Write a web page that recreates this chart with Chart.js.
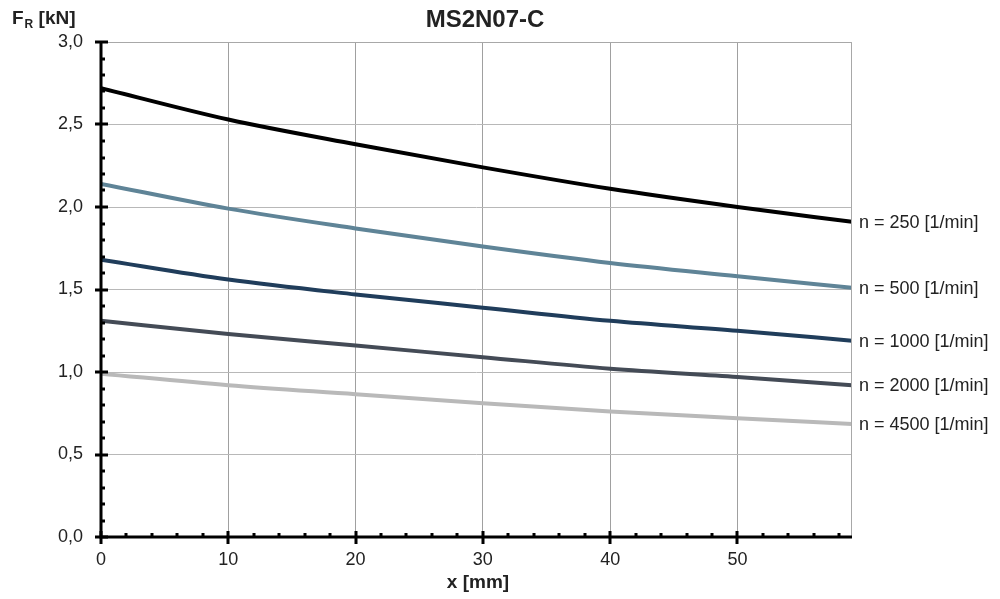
<!DOCTYPE html>
<html>
<head>
<meta charset="utf-8">
<script src="https://cdn.jsdelivr.net/npm/chart.js@4/dist/chart.umd.min.js"></script>
<style>
  html, body { margin: 0; padding: 0; background: #fff; }
  #wrap { width: 1000px; height: 599px; position: relative; }
</style>
</head>
<body>
<div id="wrap"><canvas id="chart"></canvas></div>
<script>
'use strict';

// x positions [mm]
const xValues = [0, 10, 20, 30, 40, 50, 59];

// radial force F_R [kN] per speed
const n250  = [2.72, 2.53, 2.38, 2.24, 2.11, 2.00, 1.91];
const n500  = [2.14, 1.99, 1.87, 1.76, 1.66, 1.58, 1.51];
const n1000 = [1.68, 1.56, 1.47, 1.39, 1.31, 1.25, 1.19];
const n2000 = [1.31, 1.23, 1.16, 1.09, 1.02, 0.97, 0.92];
const n4500 = [0.99, 0.92, 0.865, 0.81, 0.76, 0.72, 0.685];

const seriesLabels = ['n = 250 [1/min]', 'n = 500 [1/min]', 'n = 1000 [1/min]', 'n = 2000 [1/min]', 'n = 4500 [1/min]'];
const seriesColors = ['#000000', '#5f8497', '#203d5b', '#444b56', '#b9b9b9'];
const seriesData = [n250, n500, n1000, n2000, n4500];

const FONT = '"Liberation Sans", Arial, sans-serif';

const makePoints = function(values) {
    return values.map((v, i) => ({ x: xValues[i], y: v }));
};

// draws frame, axis ticks, titles and end labels
const decorations = {
    id: 'decorations',
    afterDraw(chart) {
        const ctx = chart.ctx;
        const area = chart.chartArea;
        const xs = chart.scales.x;
        const ys = chart.scales.y;
        ctx.save();

        // top + right frame
        ctx.strokeStyle = '#a8a8a8';
        ctx.lineWidth = 1;
        ctx.beginPath();
        ctx.moveTo(area.left, area.top + 0.5);
        ctx.lineTo(area.right - 0.5, area.top + 0.5);
        ctx.lineTo(area.right - 0.5, area.bottom);
        ctx.stroke();

        // axis lines
        ctx.strokeStyle = '#000';
        ctx.lineWidth = 3;
        ctx.beginPath();
        ctx.moveTo(area.left, area.top);
        ctx.lineTo(area.left, area.bottom);
        ctx.lineTo(area.right, area.bottom);
        ctx.stroke();

        // y ticks: major each 0.5, minor each 0.1
        for (let i = 0; i <= 30; i++) {
            const py = Math.round(ys.getPixelForValue(i / 10));
            if (i % 5 === 0) {
                ctx.fillRect(area.left - 6, py - 1.5, 13, 3);
            } else {
                ctx.fillRect(area.left, py - 1.5, 4, 3);
            }
        }
        // x ticks: major each 10, minor each 2
        for (let v = 0; v <= 58; v += 2) {
            const px = Math.round(xs.getPixelForValue(v));
            if (v % 10 === 0) {
                ctx.fillRect(px - 1.5, area.bottom - 6, 3, 13);
            } else {
                ctx.fillRect(px - 1.5, area.bottom - 4, 3, 4);
            }
        }

        // end labels
        ctx.fillStyle = '#222';
        ctx.font = '18px ' + FONT;
        ctx.textAlign = 'left';
        ctx.textBaseline = 'middle';
        chart.data.datasets.forEach((ds, i) => {
            const meta = chart.getDatasetMeta(i);
            const last = meta.data[meta.data.length - 1];
            ctx.fillText(seriesLabels[i], last.x + 7, last.y + 1);
        });

        // title
        ctx.fillStyle = '#222';
        ctx.textAlign = 'center';
        ctx.font = 'bold 24px ' + FONT;
        ctx.fillText('MS2N07-C', 485, 20);

        // x axis title
        ctx.font = 'bold 19px ' + FONT;
        ctx.fillText('x [mm]', 478, 583);

        // y axis title F_R [kN]
        ctx.textAlign = 'left';
        ctx.font = 'bold 19px ' + FONT;
        ctx.fillText('F', 12, 19);
        const fw = ctx.measureText('F').width;
        ctx.font = 'bold 12px ' + FONT;
        ctx.fillText('R', 12 + fw + 1, 25);
        const rw = ctx.measureText('R').width;
        ctx.font = 'bold 19px ' + FONT;
        ctx.fillText(' [kN]', 13 + fw + rw, 19);

        ctx.restore();
    }
};

document.addEventListener('DOMContentLoaded', function() {
    const canvas = document.querySelector('#chart').getContext('2d');
    new Chart(canvas, {
        type: 'line',
        data: {
            datasets: seriesData.map((values, i) => ({
                label: seriesLabels[i],
                data: makePoints(values),
                borderColor: seriesColors[i],
                borderWidth: 4,
                pointRadius: 0,
                fill: false,
                cubicInterpolationMode: 'monotone'
            }))
        },
        options: {
            responsive: true,
            maintainAspectRatio: false,
            animation: false,
            layout: { padding: { left: 0, right: 148, top: 42, bottom: 0 } },
            plugins: {
                legend: { display: false },
                title: { display: false },
                tooltip: { enabled: false }
            },
            scales: {
                x: {
                    type: 'linear',
                    min: 0,
                    max: 59,
                    afterFit: (s) => { s.height = 62; },
                    border: { display: false },
                    grid: { color: '#a0a0a0', lineWidth: 1, drawTicks: false },
                    ticks: {
                        stepSize: 10,
                        includeBounds: false,
                        padding: 12,
                        color: '#222',
                        font: { family: FONT, size: 18 }
                    }
                },
                y: {
                    min: 0,
                    max: 3,
                    afterFit: (s) => { s.width = 101; },
                    border: { display: false },
                    grid: { color: '#b8b8b8', lineWidth: 1, drawTicks: false },
                    ticks: {
                        stepSize: 0.5,
                        padding: 18,
                        color: '#222',
                        font: { family: FONT, size: 18 },
                        callback: (v) => v.toFixed(1).replace('.', ',')
                    }
                }
            }
        },
        plugins: [decorations]
    });
});
</script>
</body>
</html>
